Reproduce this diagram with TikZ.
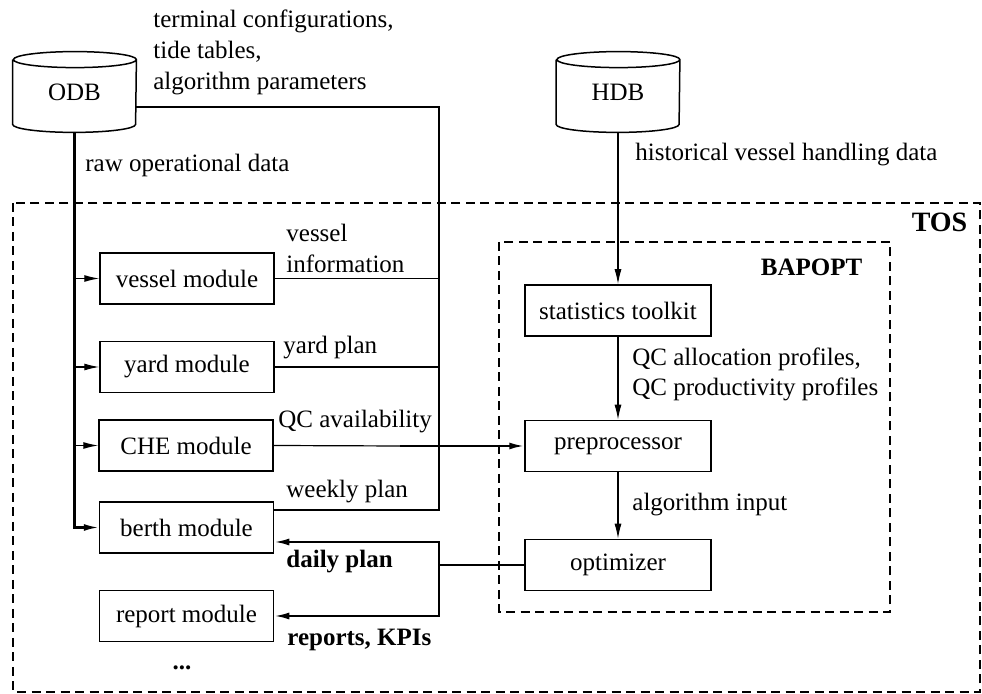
\documentclass[tikz,border=0pt]{standalone}
\usepackage{fontspec}
\setmainfont{Liberation Serif}
\usetikzlibrary{arrows.meta,calc}

\begin{document}
\fontsize{12.5}{15}\selectfont
\begin{tikzpicture}[x=0.5pt,y=0.5pt]

\tikzset{module/.style = {shape=rectangle,draw,line width=0.75pt,minimum width=87pt,minimum height=25.5pt,inner sep=0pt}}
\tikzset{tool/.style = {module,minimum width=93pt}}
\tikzset{db/.style = {shape=rectangle,minimum width=61.5pt,minimum height=32pt,inner sep=0pt}}
\tikzset{group/.style = {dash pattern=on 4.5pt off 2.75pt,line width=1pt}}
\tikzset{flow/.style = {line width=0.6pt}}
\tikzset{bus/.style = {line width=1.1pt}}
\tikzset{tip/.style = {-{Latex[length=7.5pt,width=3.5pt]}}}
\tikzset{note/.style = {anchor=west,inner sep=0pt,align=left}}
\tikzset{wide/.style = {font=\fontsize{12.5}{15.5}\selectfont}}

\useasboundingbox (0,0) rectangle (982,-694);

\draw[group] (13,-203) rectangle (980,-692);
\draw[group] (499,-242) rectangle (890,-612);
\node[anchor=east,font=\fontsize{14}{16}\selectfont\bfseries] (tos) at (976,-222) {TOS};
\node[anchor=east,font=\bfseries] (bapopt) at (871,-267) {BAPOPT};

\node[db] (odb) at (74.5,-92) {ODB};
\node[db] (hdb) at (618,-92) {HDB};
\foreach \d in {odb,hdb}
  \draw[line width=0.75pt] (\d.north west) -- (\d.south west)
    arc[start angle=180,end angle=360,x radius=61.5,y radius=8] -- (\d.north east)
    arc[start angle=0,end angle=360,x radius=61.5,y radius=8];

\node[module] (vessel) at (187,-278.5) {vessel module};
\node[module] (yard) at (187,-367) {yard module};
\node[module] (che) at (186,-445.5) {CHE module};
\node[module] (berth) at (186.5,-527.5) {berth module};
\node[module] (report) at (186.5,-616) {report module};
\node (more) at (182,-668) {\bfseries ...};

\node[tool] (stats) at (618,-310.5) {statistics toolkit};
\node[tool] (pre) at (618,-446) {preprocessor};
\node[tool] (opt) at (618,-565) {optimizer};

\coordinate (jw) at (439,-510);
\coordinate (jc) at (400,-446);
\coordinate (jo) at (439,-565);

\draw[bus,tip] ($(odb.south)+(0,-8)$) |- (berth.west);
\foreach \m in {vessel,yard,che}
  \draw[flow,tip] (\m.west -| berth.west) ++(-25,0) -- (\m.west);

\draw[flow] ($(odb.east)+(0,-15)$) -| (jw) -- ($(berth.east)+(0,17.5)$);
\draw[flow] (vessel.east) -- (vessel.east -| jw);
\draw[flow] (yard.east) -- (yard.east -| jw);
\draw[flow] (che.east) -- (jc);
\draw[bus,tip] (jc) -- (pre.west);

\draw[flow,tip] ($(hdb.south)+(0,-8)$) -- (stats.north);
\draw[flow,tip] (stats) -- (pre);
\draw[flow,tip] (pre) -- (opt);

\draw[bus] (opt.west) -- (jo);
\draw[bus,tip] (jo) |- ($(berth.east)+(0,-14.5)$);
\draw[bus,tip] (jo) |- (report.east);

\node[note,wide] (cfglbl) at (153,-52) {terminal configurations,\\tide tables,\\algorithm parameters};
\node[note] (rawlbl) at (85,-165) {raw operational data};
\node[note] (hdblbl) at (635,-155) {historical vessel handling data};
\node[note,wide] (vlbl) at (286,-248) {vessel\\information};
\node[note] (ylbl) at (283,-348) {yard plan};
\node[note] (clbl) at (278,-422) {QC availability};
\node[note] (wlbl) at (286,-492) {weekly plan};
\node[note,font=\bfseries] (dlbl) at (286,-562) {daily plan};
\node[note,font=\bfseries] (rlbl) at (287,-640) {reports, KPIs};
\node[note] (plbl) at (632,-374) {QC allocation profiles,\\QC productivity profiles};
\node[note] (albl) at (632,-505) {algorithm input};

\end{tikzpicture}
\end{document}
